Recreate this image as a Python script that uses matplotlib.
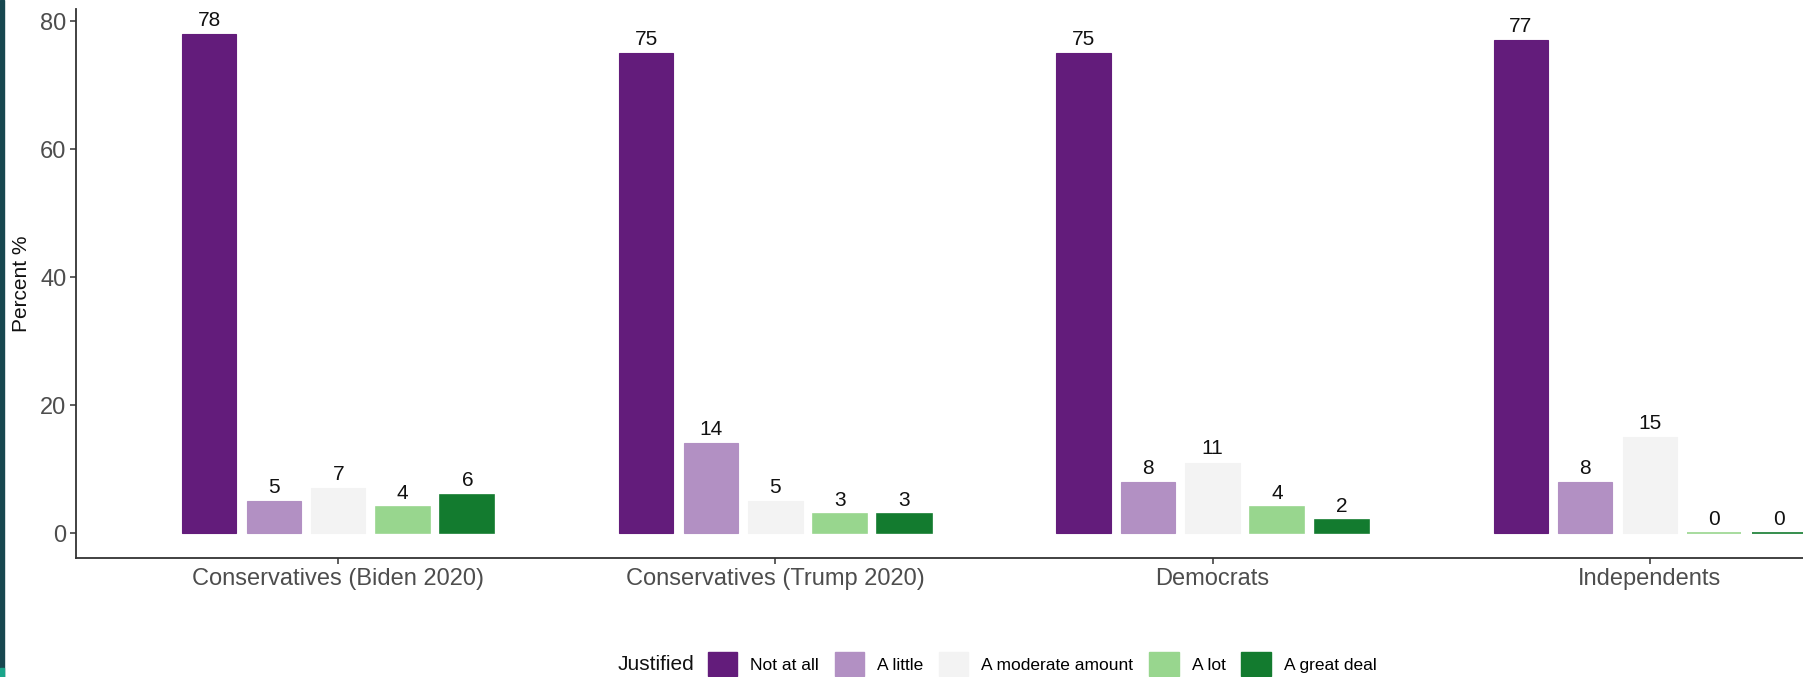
import matplotlib
matplotlib.use("Agg")
import numpy as np
from matplotlib import pyplot as plt
from matplotlib.patches import Rectangle, Patch

plt.rcParams['font.family'] = ['Liberation Sans', 'DejaVu Sans']

groups = ["Conservatives (Biden 2020)", "Conservatives (Trump 2020)", "Democrats", "Independents"]
levels = ["Not at all", "A little", "A moderate amount", "A lot", "A great deal"]
colors = ["#631c7b", "#b290c3", "#f3f3f3", "#98d68e", "#137b2f"]

not_at_all = [78, 75, 75, 77]
a_little = [5, 14, 8, 8]
moderate = [7, 5, 11, 15]
a_lot = [4, 3, 4, 0]
great_deal = [6, 3, 2, 0]
series = [not_at_all, a_little, moderate, a_lot, great_deal]

W, H = 1803, 677
fig = plt.figure(figsize=(W / 100, H / 100), dpi=100)
# axes runs past the right edge, the reference is cropped there
ax = fig.add_axes([76 / W, 1 - 558 / H, (1912 - 76) / W, (558 - 9) / H])

x = np.arange(1, len(groups) + 1)
pitch = 0.1476
bw = 0.124
for i, (vals, c) in enumerate(zip(series, colors)):
    xs = x + (i - 2) * pitch
    ax.bar(xs, vals, width=bw, color=c, edgecolor=c, linewidth=0.8 if min(vals) > 0 else 1.2)
    for xx, v in zip(xs, vals):
        ax.annotate(str(v), (xx, v), xytext=(0, 3), textcoords="offset points",
                    ha="center", va="bottom", fontsize=15, color="#111111")

ax.set_xlim(0.4, 4.6)
ax.set_ylim(-3.9, 81.9)
ax.set_yticks([0, 20, 40, 60, 80])
ax.set_xticks(x)
ax.set_xticklabels(groups)
for s in ["top", "right"]:
    ax.spines[s].set_visible(False)
for s in ["left", "bottom"]:
    ax.spines[s].set_color("#333333")
    ax.spines[s].set_linewidth(1.3)
ax.tick_params(axis="both", length=4, width=1.1, color="#333333", labelcolor="#4d4d4d",
               labelsize=17, pad=3)

fig.text(22 / W, 1 - 284 / H, "Percent %", rotation=90, ha="center", va="center", fontsize=15, color="#111111")

handles = [Patch(facecolor=c, edgecolor=c) for c in colors]
fig.legend(handles, levels, loc="center", bbox_to_anchor=((714 + 1370) / 2 / W, 1 - 664 / H),
           ncol=5, frameon=False, fontsize=12.5, handlelength=1.7, handleheight=1.7,
           handletextpad=0.75, columnspacing=0.9, borderpad=0, borderaxespad=0)
fig.text(618 / W, 1 - 664 / H, "Justified", ha="left", va="center", fontsize=15, color="#111111")

# dark strip at the left edge
fig.patches.append(Rectangle((0, 0), 4 / W, 1, transform=fig.transFigure, color="#17474f", zorder=10))
fig.patches.append(Rectangle((0, 0), 4 / W, 9 / H, transform=fig.transFigure, color="#1aa58a", zorder=11))

fig.savefig("out.png", dpi=100)
